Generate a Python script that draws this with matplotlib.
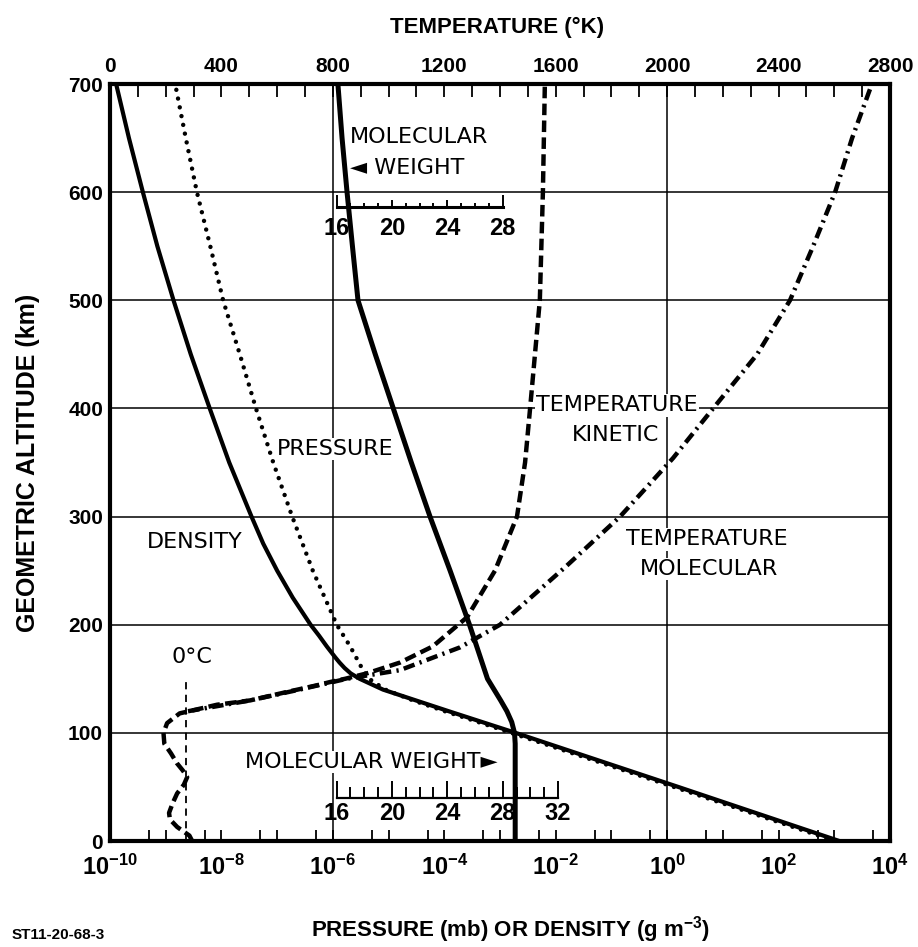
import matplotlib
matplotlib.use("Agg")
import numpy as np
import matplotlib.pyplot as plt
from matplotlib import font_manager
from matplotlib.ticker import LogLocator, FuncFormatter, MultipleLocator, NullFormatter

# ---- values ----
# density (log10 g m^-3) vs altitude (km)
alt_density = [0, 50, 100, 110, 120, 130, 140, 150, 155, 160, 165, 170, 180,
               190, 200, 225, 250, 275, 300, 350, 400, 450, 500, 550, 600, 650,
               700]
density_log10 = [3.09, 0.20, -2.72, -3.32, -3.92, -4.51, -5.10, -5.52, -5.68,
                 -5.79, -5.88, -5.96, -6.11, -6.25, -6.40, -6.72, -7.00, -7.25,
                 -7.46, -7.86, -8.21, -8.55, -8.86, -9.15, -9.41, -9.66, -9.89]

# pressure (log10 mb) vs altitude (km)
alt_pressure = [0, 50, 100, 110, 120, 130, 140, 150, 160, 180, 200, 250, 300,
                350, 400, 450, 500, 550, 600, 650, 700]
pressure_log10 = [3.01, 0.12, -2.80, -3.39, -3.99, -4.56, -5.06, -5.35, -5.48,
                  -5.69, -5.93, -6.36, -6.73, -7.07, -7.38, -7.67, -7.97, -8.20,
                  -8.44, -8.64, -8.83]

# kinetic temperature (K)
alt_t_kin = [0, 5, 13, 20, 26, 35, 44, 52, 59, 65, 72, 81, 90, 100, 109, 118,
             126, 130, 137, 144, 147, 150, 155, 165, 180, 207, 250, 300, 350,
             400, 500, 600, 700]
t_kin = [295, 285, 241, 215, 212, 225, 241, 265, 277, 262, 240, 219, 195, 192,
         205, 250, 384, 503, 621, 743, 790, 844, 922, 1041, 1159, 1282, 1382,
         1461, 1490, 1508, 1543, 1554, 1561]

# molecular temperature (K)
alt_t_mol = [120, 130, 140, 150, 158, 179, 200, 253, 300, 354, 400, 450, 500,
             550, 600, 650, 700]
t_mol = [280, 503, 680, 850, 1041, 1256, 1400, 1633, 1831, 2021, 2165, 2323,
         2441, 2524, 2603, 2664, 2735]

# mean molecular weight
alt_mw = [0, 90, 100, 110, 120, 130, 150, 175, 200, 250, 300, 350, 400, 450,
          500, 550, 600, 650, 700]
mw = [28.9, 28.9, 28.85, 28.65, 28.3, 27.85, 26.9, 26.25, 25.6, 24.2, 22.75,
      21.4, 20.1, 18.8, 17.55, 17.15, 16.76, 16.4, 16.1]

alt_ticks = [0, 100, 200, 300, 400, 500, 600, 700]
grid_x = [1e-6, 1e0]
zero_c_K = 273.15
mw_top_scale = list(range(16, 29))
mw_top_labels = [16, 20, 24, 28]
mw_bot_scale = list(range(16, 33))
mw_bot_labels = [16, 20, 24, 28, 32]

# ---- fonts ----
names = {f.name for f in font_manager.fontManager.ttflist}
NARROW = "Liberation Sans Narrow" if "Liberation Sans Narrow" in names else "Liberation Sans"
plt.rcParams["font.family"] = [NARROW, "DejaVu Sans"]
plt.rcParams["font.weight"] = "bold"
plt.rcParams["mathtext.fontset"] = "custom"
plt.rcParams["mathtext.rm"] = NARROW + ":bold"
plt.rcParams["mathtext.it"] = NARROW + ":bold"
plt.rcParams["mathtext.bf"] = NARROW + ":bold"
plt.rcParams["mathtext.default"] = "rm"
LBL = dict(family=["DejaVu Sans"], fontweight="normal", fontsize=16)

fig = plt.figure(figsize=(9.18, 9.47), dpi=100)
ax = fig.add_axes([110 / 918, 106 / 947, 780 / 918, 757 / 947])
ax.set_xscale("log")
ax.set_xlim(1e-10, 1e4)
ax.set_ylim(0, 700)

axT = ax.twiny()
axT.set_xlim(0, 2800)
axM = ax.twiny()
axM.set_xlim(-0.354, 55.96)
axM.set_xticks([])
for s in list(axT.spines.values()) + list(axM.spines.values()):
    s.set_visible(False)
for s in ax.spines.values():
    s.set_linewidth(3.0)

# grid
ax.set_yticks(alt_ticks)
ax.set_axisbelow(True)
ax.grid(axis="y", color="black", lw=1.1)
for g in grid_x:
    ax.axvline(g, color="black", lw=1.1, zorder=0.5)

# ticks
ax.xaxis.set_major_locator(LogLocator(base=10, numticks=30))
ax.xaxis.set_minor_locator(LogLocator(base=10, subs=[5], numticks=30))
ax.xaxis.set_minor_formatter(NullFormatter())
def dec_label(v, pos):
    e = int(round(np.log10(v)))
    return f"$10^{{{e}}}$" if e % 2 == 0 else ""
ax.xaxis.set_major_formatter(FuncFormatter(dec_label))
ax.tick_params(axis="x", which="both", direction="in", length=8, width=1.3,
               labelsize=17, pad=10)
ax.tick_params(axis="y", length=0, labelsize=15, pad=5)
axT.xaxis.set_major_locator(MultipleLocator(400))
axT.xaxis.set_minor_locator(MultipleLocator(100))
axT.tick_params(which="both", direction="in", length=9, width=1.3,
                labelsize=15, pad=6)

# curves
ax.plot(10 ** np.array(density_log10), alt_density, color="black", lw=3.0,
        zorder=3, solid_capstyle="butt", solid_joinstyle="round")
ax.plot(10 ** np.array(pressure_log10), alt_pressure, color="black", lw=3.2,
        ls=(0, (0.01, 2.0)), dash_capstyle="round", zorder=3)
axT.plot(t_kin, alt_t_kin, color="black", lw=3.2, ls=(0, (2.6, 1.2)), zorder=3)
axT.plot(t_mol, alt_t_mol, color="black", lw=3.2,
         ls=(0, (2.6, 1.2, 0.5, 1.2)), zorder=3)
axT.vlines(zero_c_K, 0, 152, color="black", lw=1.3, linestyles=(0, (4, 3)))
axM.plot(mw, alt_mw, color="black", lw=3.6, zorder=3, solid_joinstyle="round")

# molecular weight scales
axM.plot([mw_top_scale[0], mw_top_scale[-1]], [585.8, 585.8], color="black", lw=2.2)
for m in mw_top_scale:
    h = 11.5 if m in (mw_top_scale[0], mw_top_scale[-1]) else (7 if m % 4 == 0 else 4)
    axM.vlines(m, 585.8, 585.8 + h, color="black", lw=1.4)
for m in mw_top_labels:
    axM.text(m, 566, str(m), ha="center", va="center", fontsize=17)

axM.plot([mw_bot_scale[0], mw_bot_scale[-1]], [39.8, 39.8], color="black", lw=1.6)
for m in mw_bot_scale:
    h = 16 if m % 4 == 0 else 10
    axM.vlines(m, 39.8, 39.8 + h, color="black", lw=1.4)
for m in mw_bot_labels:
    axM.text(m, 25, str(m), ha="center", va="center", fontsize=17)

# in-plot labels
box = dict(facecolor="white", edgecolor="none", pad=1.0)
axT.text(305, 276.5, "DENSITY", ha="center", va="center", bbox=box, zorder=2, **LBL)
axT.text(808, 362.5, "PRESSURE", ha="center", va="center", bbox=box, zorder=2, **LBL)
axT.text(294, 170, "0°C", ha="center", va="center", zorder=2, **LBL)
axT.text(1820, 403, "TEMPERATURE", ha="center", va="center", bbox=box, zorder=2, **LBL)
axT.text(1816, 375.5, "KINETIC", ha="center", va="center", bbox=box, zorder=2, **LBL)
axT.text(2143, 279, "TEMPERATURE", ha="center", va="center", bbox=box, zorder=2, **LBL)
axT.text(2150, 251.5, "MOLECULAR", ha="center", va="center", bbox=box, zorder=2, **LBL)
axT.text(861, 651, "MOLECULAR", ha="left", va="center", zorder=2, **LBL)
axT.text(861, 622, "\u25c4 WEIGHT", ha="left", va="center", zorder=2, **LBL)
axT.text(937, 73, "MOLECULAR WEIGHT\u25ba", ha="center", va="center", bbox=box,
         zorder=2, **LBL)

# axis titles
fig.text(497 / 918, 1 - 27 / 947, "TEMPERATURE (°K)", ha="center", va="center",
         fontsize=16)
fig.text(510 / 918, 1 - 930 / 947, "PRESSURE (mb) OR DENSITY (g m$^{-3}$)",
         ha="center", va="center", fontsize=16)
fig.text(12 / 918, 1 - 935 / 947, "ST11-20-68-3", ha="left", va="center",
         fontsize=11)
ax.set_ylabel("GEOMETRIC ALTITUDE (km)", fontsize=18, fontweight="bold")
ax.yaxis.set_label_coords(-0.09, 0.5)

fig.savefig("out.png", dpi=100)
